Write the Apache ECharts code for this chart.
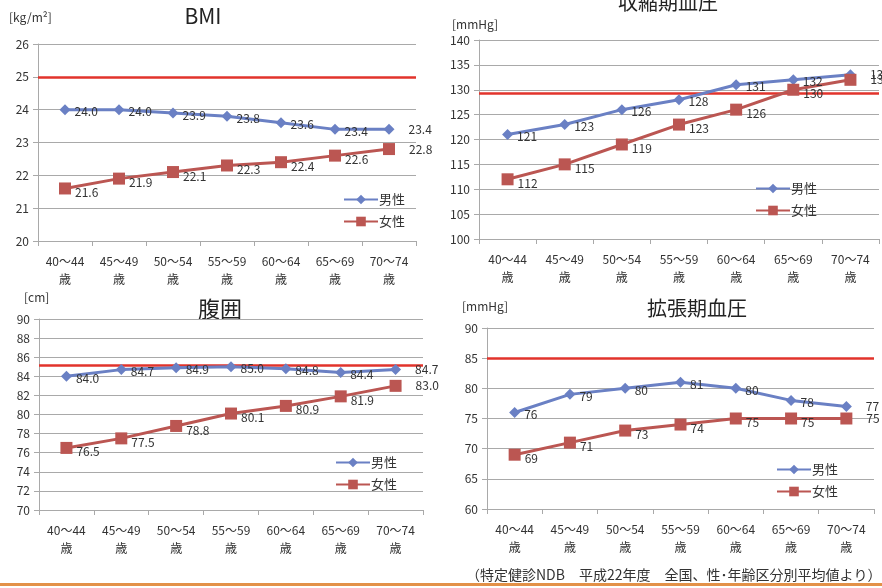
<!DOCTYPE html>
<html>
<head>
<meta charset="utf-8">
<script src="https://cdn.jsdelivr.net/npm/echarts@6/dist/echarts.min.js"></script>
<style>
  html, body { margin: 0; padding: 0; background: #fff; }
  #chart { width: 882px; height: 588px; }
</style>
</head>
<body>
<div id="chart"></div>
<script>
// Age groups shared by all four panels
const ageGroups = ['40～44\n歳', '45～49\n歳', '50～54\n歳', '55～59\n歳', '60～64\n歳', '65～69\n歳', '70～74\n歳'];

// BMI [kg/m²]
const bmiMale   = [24.0, 24.0, 23.9, 23.8, 23.6, 23.4, 23.4];
const bmiFemale = [21.6, 21.9, 22.1, 22.3, 22.4, 22.6, 22.8];

// Systolic blood pressure [mmHg]
const sbpMale   = [121, 123, 126, 128, 131, 132, 133];
const sbpFemale = [112, 115, 119, 123, 126, 130, 132];

// Waist circumference [cm]
const waistMale   = [84.0, 84.7, 84.9, 85.0, 84.8, 84.4, 84.7];
const waistFemale = [76.5, 77.5, 78.8, 80.1, 80.9, 81.9, 83.0];

// Diastolic blood pressure [mmHg]
const dbpMale   = [76, 79, 80, 81, 80, 78, 77];
const dbpFemale = [69, 71, 73, 74, 75, 75, 75];

// Reference lines
const refLines = [25, 129.3, 85.15, 85];

// Axis ranges: [min, max, interval]
const yRanges = [[20, 26, 1], [100, 140, 5], [70, 90, 2], [60, 90, 5]];
const decimals = [1, 0, 1, 0];

const panelTitles = ['BMI', '収縮期血圧', '腹囲', '拡張期血圧'];
const unitLabels = ['[kg/m²]', '[mmHg]', '[cm]', '[mmHg]'];
const maleName = '男性';
const femaleName = '女性';
const footnote = '（特定健診NDB　平成22年度　全国、性･年齢区分別平均値より）';

const FONT = '"Noto Sans CJK JP", "Noto Sans", sans-serif';
const MALE_COLOR = '#6a80c4';
const FEMALE_COLOR = '#bb5652';
const REF_COLOR = '#e2332b';
const GRID_COLOR = '#a9a9a9';
const TEXT_COLOR = '#333';

const panels = [
  { male: bmiMale, female: bmiFemale },
  { male: sbpMale, female: sbpFemale },
  { male: waistMale, female: waistFemale },
  { male: dbpMale, female: dbpFemale }
];

const grids = [
  { left: 38, top: 44, width: 378, height: 197 },
  { left: 479, top: 40, width: 400, height: 199 },
  { left: 39, top: 319, width: 384, height: 191 },
  { left: 487, top: 328, width: 387, height: 181 }
];

const legendPos = [
  { left: 338, top: 188 },
  { left: 750, top: 177 },
  { left: 330, top: 451 },
  { left: 771, top: 458 }
];

const titlePos = [
  { x: 203, y: 16, size: 21 },
  { x: 668, y: 2, size: 20 },
  { x: 220, y: 309, size: 22 },
  { x: 697, y: 308, size: 20 }
];

const unitPos = [
  { x: 9, y: 17 },
  { x: 452, y: 24 },
  { x: 24, y: 297 },
  { x: 462, y: 306 }
];

function labelData(values) {
  return values.map((v, i) => ({
    value: v,
    label: i === values.length - 1 ? { offset: [10, 0] } : undefined
  }));
}

const xAxes = [], yAxes = [], series = [], legends = [], graphics = [];

panels.forEach((p, k) => {
  xAxes.push({
    type: 'category',
    gridIndex: k,
    data: ageGroups,
    boundaryGap: true,
    axisLine: { show: true, lineStyle: { color: GRID_COLOR, width: 1 } },
    axisTick: { show: true, length: 5, lineStyle: { color: GRID_COLOR } },
    axisLabel: {
      color: TEXT_COLOR, fontFamily: FONT, fontSize: 12, lineHeight: 18,
      margin: 11, interval: 0
    },
    splitLine: { show: false }
  });
  const [mn, mx, iv] = yRanges[k];
  yAxes.push({
    type: 'value',
    gridIndex: k,
    min: mn, max: mx, interval: iv,
    axisLine: { show: true, lineStyle: { color: GRID_COLOR, width: 1 } },
    axisTick: { show: true, length: 5, lineStyle: { color: GRID_COLOR } },
    axisLabel: { color: TEXT_COLOR, fontFamily: FONT, fontSize: 12, margin: 9 },
    splitLine: { show: true, lineStyle: { color: GRID_COLOR, width: 1 } }
  });

  const fmt = (prm) => Number(prm.value).toFixed(decimals[k]);

  series.push({
    name: maleName,
    type: 'line',
    xAxisIndex: k, yAxisIndex: k,
    data: labelData(p.male),
    symbol: 'diamond',
    symbolSize: 11,
    lineStyle: { color: MALE_COLOR, width: 3 },
    itemStyle: { color: MALE_COLOR },
    label: {
      show: true, position: 'right', distance: 4, offset: [0, 2],
      color: TEXT_COLOR, fontFamily: FONT, fontSize: 12, formatter: fmt
    },
    z: 3,
    markLine: {
      silent: true,
      symbol: ['none', 'none'],
      label: { show: false },
      lineStyle: { color: REF_COLOR, width: 2.5, type: 'solid' },
      data: [{ yAxis: refLines[k] }],
      z: 2
    }
  });
  series.push({
    name: femaleName,
    type: 'line',
    xAxisIndex: k, yAxisIndex: k,
    data: labelData(p.female),
    symbol: 'rect',
    symbolSize: 12,
    lineStyle: { color: FEMALE_COLOR, width: 3 },
    itemStyle: { color: FEMALE_COLOR },
    label: {
      show: true, position: 'right', distance: 4, offset: [0, 4],
      color: TEXT_COLOR, fontFamily: FONT, fontSize: 12, formatter: fmt
    },
    z: 3
  });

  legends.push({
    orient: 'vertical',
    left: legendPos[k].left,
    top: legendPos[k].top,
    itemWidth: 34, itemHeight: 12, itemGap: 9,
    selectedMode: false,
    textStyle: { color: TEXT_COLOR, fontFamily: FONT, fontSize: 13, padding: [0, 0, 0, -4] },
    data: [maleName, femaleName]
  });

  graphics.push({
    type: 'text',
    x: titlePos[k].x, y: titlePos[k].y,
    style: {
      text: panelTitles[k], fill: '#222', font: titlePos[k].size + 'px ' + FONT,
      textAlign: 'center', textVerticalAlign: 'middle'
    }
  });
  graphics.push({
    type: 'text',
    x: unitPos[k].x, y: unitPos[k].y,
    style: {
      text: unitLabels[k], fill: TEXT_COLOR, font: '12px ' + FONT,
      textAlign: 'left', textVerticalAlign: 'middle'
    }
  });
});

// Source note and bottom rule
graphics.push({
  type: 'text',
  x: 466, y: 575,
  style: { text: footnote, fill: TEXT_COLOR, font: '14px ' + FONT, textAlign: 'left', textVerticalAlign: 'middle' }
});
graphics.push({
  type: 'rect',
  shape: { x: 0, y: 583, width: 882, height: 3 },
  style: { fill: '#e39148' }
});

const chart = echarts.init(document.getElementById('chart'), null, { renderer: 'canvas' });
chart.setOption({
  animation: false,
  backgroundColor: '#fff',
  grid: grids.map(g => Object.assign({ containLabel: false }, g)),
  xAxis: xAxes,
  yAxis: yAxes,
  legend: legends,
  series: series,
  graphic: graphics
});
</script>
</body>
</html>
